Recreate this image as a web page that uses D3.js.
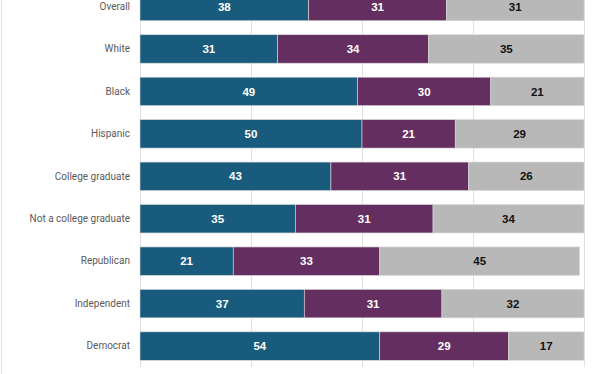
<!DOCTYPE html>
<html>
<head>
<meta charset="utf-8">
<script src="https://cdn.jsdelivr.net/npm/d3@7"></script>
<style>
  body { margin: 0; background: #fff; }
  svg { display: block; }
</style>
</head>
<body>
<div id="chart"></div>
<script>
// Chart data
var categories = ["Overall", "White", "Black", "Hispanic", "College graduate",
  "Not a college graduate", "Republican", "Independent", "Democrat"];
var series1 = [38, 31, 49, 50, 43, 35, 21, 37, 54];
var series2 = [31, 34, 30, 21, 31, 31, 33, 31, 29];
var series3 = [31, 35, 21, 29, 26, 34, 45, 32, 17];
var gridTicks = [0, 25, 50, 75, 100];

var svgWidth = 612;
var svgHeight = 374;

var svg = d3.select("#chart").append("svg")
  .attr("width", svgWidth).attr("height", svgHeight);

// faint frame line on the left
svg.append("line")
  .attr("x1", 1.5).attr("x2", 1.5).attr("y1", 0).attr("y2", svgHeight)
  .attr("stroke", "#e4e4e4");

var xScale = d3.scaleLinear().domain([0, 100]).range([140, 584]);
var yScale = d3.scaleBand().domain(categories).range([-14.7, 367.3])
  .paddingInner(0.33).paddingOuter(0.165);

// gridlines
svg.append("g").selectAll("line")
  .data(gridTicks).enter().append("line")
  .attr("x1", d => xScale(d) + 0.5).attr("x2", d => xScale(d) + 0.5)
  .attr("y1", 0).attr("y2", 367)
  .attr("stroke", "#e0e0e0").attr("stroke-width", 1);

// stack the three series
var rows = categories.map(function(c, i) {
  return {cat: c, a: series1[i], b: series2[i], c: series3[i]};
});
var stack = d3.stack().keys(["a", "b", "c"])(rows);
var colors = {a: "#195b7c", b: "#642f60", c: "#b8b8b8"};
var textColors = {a: "#ffffff", b: "#ffffff", c: "#111111"};

var layers = svg.selectAll("g.layer")
  .data(stack).enter().append("g")
  .attr("class", "layer");

layers.selectAll("rect")
  .data(d => d.map(p => ({key: d.key, p: p})))
  .enter().append("rect")
  .attr("x", d => xScale(d.p[0]))
  .attr("y", d => yScale(d.p.data.cat))
  .attr("width", d => xScale(d.p[1]) - xScale(d.p[0]))
  .attr("height", yScale.bandwidth())
  .attr("fill", d => colors[d.key])
  .attr("stroke", "#d8d8d8").attr("stroke-width", 0.6);

layers.selectAll("text")
  .data(d => d.map(p => ({key: d.key, p: p})))
  .enter().append("text")
  .attr("x", d => (xScale(d.p[0]) + xScale(d.p[1])) / 2)
  .attr("y", d => yScale(d.p.data.cat) + yScale.bandwidth() / 2)
  .attr("dy", "0.36em")
  .attr("text-anchor", "middle")
  .attr("font-family", "Liberation Sans, Arial, sans-serif")
  .attr("font-weight", "bold")
  .attr("font-size", "11.5px")
  .attr("fill", d => textColors[d.key])
  .text(d => d.p.data[d.key]);

// category labels
var yAxis = d3.axisLeft(yScale).tickSize(0).tickPadding(0);
var yAxisDraw = svg.append("g")
  .attr("transform", "translate(130,0)")
  .call(yAxis);
yAxisDraw.select(".domain").remove();
yAxisDraw.selectAll("text")
  .attr("font-family", "Roboto, sans-serif")
  .attr("font-size", "10px")
  .attr("fill", "#5a5a5a");
</script>
</body>
</html>
